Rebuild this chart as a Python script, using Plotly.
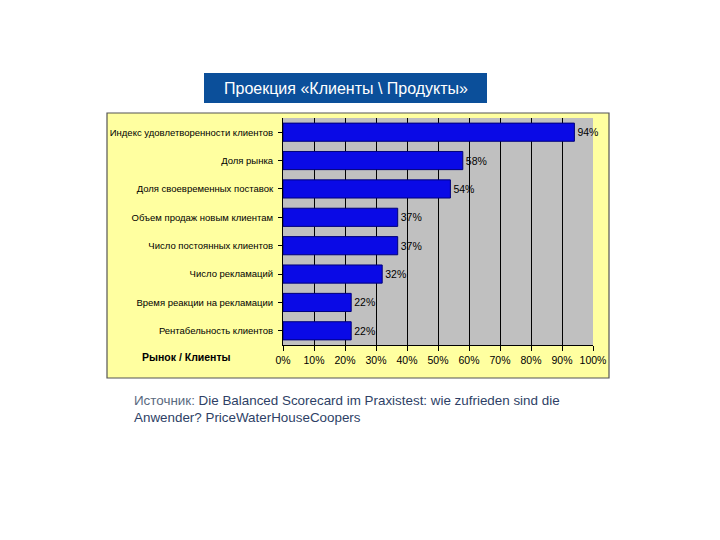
import plotly.graph_objects as go

categories = [
    "Индекс удовлетворенности клиентов",
    "Доля рынка",
    "Доля своевременных поставок",
    "Объем продаж новым клиентам",
    "Число постоянных клиентов",
    "Число рекламаций",
    "Время реакции на рекламации",
    "Рентабельность клиентов",
]
values = [94, 58, 54, 37, 37, 32, 22, 22]
value_labels = [f"{v}%" for v in values]
x_ticks = list(range(0, 101, 10))
x_tick_labels = [f"{t}%" for t in x_ticks]

OFF = 8  # page body margin
W, H = 712, 532
L, R, T, B = 283 - OFF, 593 - OFF, 118 - OFF, 345 - OFF


def px(x):
    return (x - OFF - L) / (R - L)


def py(y):
    return (B - (y - OFF)) / (B - T)


fig = go.Figure()
fig.add_trace(go.Bar(
    y=categories, x=values, orientation="h",
    marker=dict(color="#0a0ae6", line=dict(color="#00007a", width=1)),
    text=value_labels, textposition="outside",
    textfont=dict(family="Liberation Sans, Arial", size=10.5, color="#000000"),
    cliponaxis=False,
    width=0.64,
))

fig.update_layout(
    width=W, height=H,
    margin=dict(l=L, r=W - R, t=T, b=H - B, pad=0),
    paper_bgcolor="#ffffff",
    plot_bgcolor="#c0c0c0",
    showlegend=False,
    font=dict(family="Liberation Sans, Arial", size=10, color="#000000"),
    xaxis=dict(
        range=[0, 100], tickvals=x_ticks, ticktext=x_tick_labels,
        showgrid=True, gridcolor="#000000", gridwidth=1,
        ticks="outside", ticklen=5, tickcolor="#000000",
        showline=True, linecolor="#000000", zeroline=False,
        tickfont=dict(size=10.5), fixedrange=True,
    ),
    yaxis=dict(
        autorange="reversed", ticks="outside", ticklen=4, tickcolor="#000000",
        showline=True, linecolor="#000000", showgrid=False,
        tickfont=dict(size=9.5), ticklabelstandoff=3,
    ),
    shapes=[
        dict(type="rect", xref="paper", yref="paper", layer="below",
             x0=px(107), x1=px(609), y0=py(378), y1=py(113),
             fillcolor="#ffffa0", line=dict(color="#555555", width=1.2)),
        dict(type="rect", xref="paper", yref="paper", layer="below",
             x0=0, x1=1, y0=0, y1=1,
             fillcolor="#c0c0c0", line=dict(width=0)),
        dict(type="rect", xref="paper", yref="paper", layer="below",
             x0=px(204), x1=px(487), y0=py(103), y1=py(73),
             fillcolor="#0b4f9a", line=dict(width=0)),
    ],
    annotations=[
        dict(xref="paper", yref="paper",
             x=px(345.5), y=py(88),
             text="Проекция «Клиенты \\ Продукты»", showarrow=False,
             font=dict(family="Liberation Sans, Arial", size=16, color="#ffffff"),
             xanchor="center", yanchor="middle"),
        dict(xref="paper", yref="paper",
             x=px(140), y=py(357),
             text="<b>Рынок / Клиенты</b>", showarrow=False,
             font=dict(family="Liberation Sans, Arial", size=10.5, color="#000000"),
             xanchor="left", yanchor="middle"),
        dict(xref="paper", yref="paper",
             x=px(132), y=py(391),
             text="<span style='color:#5a6a80'>Источник:</span> Die Balanced Scorecard im Praxistest: wie zufrieden sind die<br>Anwender? PriceWaterHouseCoopers",
             showarrow=False, align="left",
             font=dict(family="Liberation Sans, Arial", size=13.4, color="#2e3f66"),
             xanchor="left", yanchor="top"),
    ],
)

fig.write_html("out.html")
